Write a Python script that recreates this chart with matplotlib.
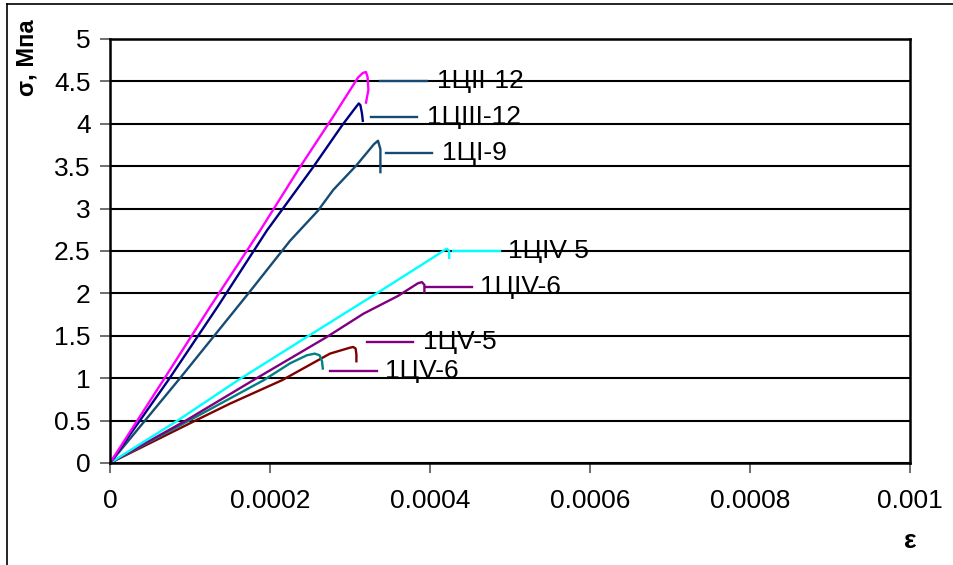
import matplotlib
matplotlib.use("Agg")
import matplotlib.pyplot as plt
from matplotlib.lines import Line2D

plt.rcParams['font.family'] = ['Liberation Sans', 'DejaVu Sans']

# strain / stress curves
eps_ii12 = [0, 0.0000666, 0.000125, 0.0001875, 0.0002375, 0.00028, 0.00031, 0.000316, 0.00032, 0.000322, 0.000323, 0.00032]
sig_ii12 = [0, 0.976, 1.84, 2.74, 3.49, 4.10, 4.545, 4.60, 4.61, 4.55, 4.40, 4.25]

eps_iii12 = [0, 0.0000728, 0.000135, 0.000196, 0.000254, 0.00029, 0.000306, 0.000311, 0.000313, 0.000315, 0.000316]
sig_iii12 = [0, 0.976, 1.85, 2.74, 3.49, 3.98, 4.18, 4.24, 4.22, 4.12, 4.035]

eps_i9 = [0, 0.0000875, 0.000173, 0.000225, 0.00026, 0.000279, 0.000308, 0.00033, 0.000335, 0.000338, 0.000338]
sig_i9 = [0, 1.0, 2.0, 2.62, 2.976, 3.22, 3.51, 3.76, 3.80, 3.70, 3.43]

eps_iv5 = [0, 0.0000854, 0.00016, 0.000246, 0.00034, 0.000405, 0.000418, 0.000421, 0.000424, 0.000424]
sig_iv5 = [0, 0.506, 0.976, 1.486, 2.04, 2.43, 2.51, 2.526, 2.50, 2.42]

eps_iv6 = [0, 0.0000958, 0.000179, 0.000271, 0.0003167, 0.00036, 0.000385, 0.00039, 0.000393, 0.000393]
sig_iv6 = [0, 0.506, 0.976, 1.486, 1.76, 1.97, 2.12, 2.133, 2.10, 2.015]

eps_v5 = [0, 0.000108, 0.00015, 0.000215, 0.000275, 0.0003, 0.000304, 0.000307, 0.000308, 0.000308]
sig_v5 = [0, 0.506, 0.70, 0.976, 1.29, 1.36, 1.368, 1.35, 1.28, 1.2]

eps_v6 = [0, 0.0001, 0.000192, 0.000225, 0.000246, 0.000256, 0.000262, 0.000265, 0.000266]
sig_v6 = [0, 0.506, 0.976, 1.175, 1.27, 1.29, 1.27, 1.20, 1.114]

# labels: name, leader start, leader end, text x, y level
lab_names = ["1ЦII-12", "1ЦIII-12", "1ЦI-9", "1ЦIV-5", "1ЦIV-6", "1ЦV-5", "1ЦV-6"]
lab_x0 = [0.0003375, 0.000326, 0.000345, 0.000429, 0.000394, 0.000321, 0.000275]
lab_x1 = [0.000396, 0.000384, 0.0004025, 0.0004875, 0.000452, 0.000379, 0.000334]
lab_tx = [0.000409, 0.000396, 0.000415, 0.000498, 0.0004625, 0.000391, 0.000344]
lab_y = [4.5, 4.08, 3.66, 2.505, 2.07, 1.43, 1.09]
lab_col = ["#164B73", "#164B73", "#164B73", "#00FFFF", "#800080", "#800080", "#800080"]

x_ticks = [0, 0.0002, 0.0004, 0.0006, 0.0008, 0.001]
x_tick_labels = ["0", "0.0002", "0.0004", "0.0006", "0.0008", "0.001"]
y_ticks = [0, 0.5, 1, 1.5, 2, 2.5, 3, 3.5, 4, 4.5, 5]
y_tick_labels = ["0", "0.5", "1", "1.5", "2", "2.5", "3", "3.5", "4", "4.5", "5"]

fig = plt.figure(figsize=(9.54, 5.65), dpi=100)
ax = fig.add_axes([110 / 954, 1 - 463 / 565, 800 / 954, 424 / 565])

lw = 1.7
ax.plot(eps_v5, sig_v5, color="#800000", lw=lw)
ax.plot(eps_v6, sig_v6, color="#008080", lw=lw)
ax.plot(eps_iv6, sig_iv6, color="#800080", lw=lw)
ax.plot(eps_iv5, sig_iv5, color="#00FFFF", lw=lw)
ax.plot(eps_i9, sig_i9, color="#164B73", lw=lw)
ax.plot(eps_iii12, sig_iii12, color="#000080", lw=lw)
ax.plot(eps_ii12, sig_ii12, color="#FF00FF", lw=lw)

for name, a, b, tx, y, c in zip(lab_names, lab_x0, lab_x1, lab_tx, lab_y, lab_col):
    ax.plot([a, b], [y, y], color=c, lw=lw)
    ax.text(tx, y, name, fontsize=19, va="center", ha="left")

ax.set_xlim(0, 0.001)
ax.set_ylim(0, 5)
ax.set_xticks(x_ticks)
ax.set_xticklabels(x_tick_labels)
ax.set_yticks(y_ticks)
ax.set_yticklabels(y_tick_labels)
ax.tick_params(axis="both", direction="out", length=7, width=1.2, color="#555555",
               labelsize=19, pad=7)
ax.tick_params(axis="x", pad=12)
ax.grid(axis="y", color="black", lw=1.5)
ax.set_axisbelow(True)
for s in ax.spines.values():
    s.set_color("black")
    s.set_linewidth(1.8)

fig.text(27 / 954, 1 - 58 / 565, "σ, Мпа", rotation=90, fontsize=17, fontweight="bold",
         ha="center", va="center")
fig.text(910 / 954, 1 - 541 / 565, "ε", fontsize=19, fontweight="bold",
         ha="center", va="center")

# outer chart frame (only left and top edges visible)
fig.add_artist(Line2D([7 / 954, 7 / 954], [0, 1 - 4 / 565], color="black", lw=1.2))
fig.add_artist(Line2D([7 / 954, 1], [1 - 4 / 565, 1 - 4 / 565], color="black", lw=1.2))

fig.savefig("out.png", dpi=100, facecolor="white")
